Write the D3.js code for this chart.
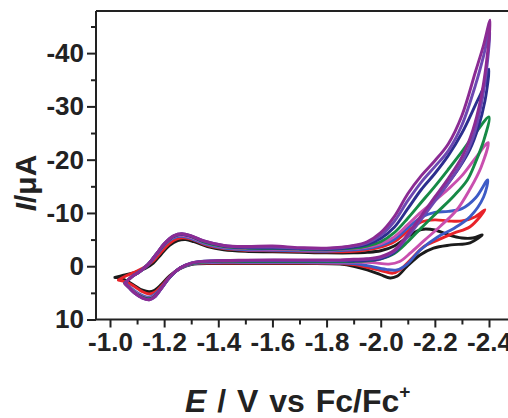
<!DOCTYPE html>
<html><head><meta charset="utf-8">
<script src="https://cdn.jsdelivr.net/npm/d3@7"></script>
<style>
html,body{margin:0;padding:0;background:#fff;}
svg{display:block;}
text{font-family:"Liberation Sans",Arial,sans-serif;font-weight:bold;fill:#222;}
</style></head><body>
<svg id="c" width="508" height="418"></svg>
<script>
// ---- data (E in V vs Fc/Fc+, I in microampere); each loop: forward scan then return scan
const xMajorTicks = [-1.0,-1.2,-1.4,-1.6,-1.8,-2.0,-2.2,-2.4];
const xMinorTicks = [-1.1,-1.3,-1.5,-1.7,-1.9,-2.1,-2.3];
const yMajorTicks = [10,0,-10,-20,-30,-40];
const yMinorTicks = [5,-5,-15,-25,-35,-45];
const seriesNames = ["black","red","blue","magenta","green","navy","violet","purple"];
const seriesColors = ["#1b1b1b","#e8232a","#3d5bc6","#c94fae","#168a45","#2c2e8e","#6c48b2","#8b2b93"];

const blackCV = [[-1.018,2.1],[-1.05,1.7],[-1.09,1.2],[-1.13,0.4],[-1.16,-0.6],[-1.19,-2.3],[-1.22,-3.9],[-1.25,-4.8],[-1.28,-5.0],[-1.31,-4.6],[-1.36,-3.7],[-1.42,-3.1],[-1.50,-2.8],[-1.60,-2.7],[-1.70,-2.6],[-1.80,-2.5],[-1.90,-2.5],[-1.95,-2.6],[-2.00,-2.9],[-2.05,-3.8],[-2.10,-5.5],[-2.15,-6.9],[-2.20,-6.8],[-2.25,-5.9],[-2.30,-5.3],[-2.34,-5.3],[-2.375,-5.9],
  [-2.33,-4.4],[-2.26,-4.0],[-2.195,-3.4],[-2.145,-2.1],[-2.096,0.1],[-2.06,1.9],[-2.035,2.2],[-2.00,1.6],[-1.95,0.7],[-1.90,0.0],[-1.85,-0.4],[-1.70,-0.5],[-1.50,-0.5],[-1.38,-0.5],[-1.30,-0.3],[-1.26,0.4],[-1.22,1.8],[-1.19,3.4],[-1.165,4.5],[-1.145,4.8],[-1.12,4.5],[-1.09,3.6],[-1.06,2.7],[-1.04,2.3],[-1.018,2.1]];
const redCV = [[-1.031,2.6],[-1.06,1.8],[-1.10,0.9],[-1.13,0.1],[-1.16,-1.0],[-1.19,-2.7],[-1.22,-4.3],[-1.25,-5.2],[-1.28,-5.3],[-1.31,-4.9],[-1.36,-3.9],[-1.42,-3.3],[-1.50,-3.0],[-1.60,-2.9],[-1.70,-2.8],[-1.80,-2.7],[-1.90,-2.8],[-1.95,-3.1],[-2.00,-3.6],[-2.05,-4.6],[-2.10,-6.6],[-2.15,-8.3],[-2.20,-8.7],[-2.25,-8.5],[-2.30,-8.5],[-2.35,-9.3],[-2.385,-10.6],
  [-2.33,-7.4],[-2.27,-6.2],[-2.21,-4.9],[-2.16,-3.7],[-2.11,-1.2],[-2.07,0.7],[-2.045,1.3],[-2.00,0.8],[-1.95,0.2],[-1.90,-0.3],[-1.85,-0.5],[-1.70,-0.6],[-1.50,-0.6],[-1.38,-0.6],[-1.30,-0.4],[-1.26,0.4],[-1.22,2.0],[-1.19,3.7],[-1.165,4.9],[-1.145,5.2],[-1.12,4.8],[-1.09,3.8],[-1.06,3.0],[-1.031,2.6]];
const blueCV = [[-1.055,3.1],[-1.08,2.0],[-1.11,1.0],[-1.14,-0.2],[-1.17,-2.0],[-1.20,-3.9],[-1.235,-5.3],[-1.265,-5.6],[-1.30,-5.2],[-1.35,-4.2],[-1.42,-3.4],[-1.50,-3.1],[-1.60,-3.0],[-1.70,-2.9],[-1.80,-2.8],[-1.90,-3.1],[-1.95,-3.3],[-2.00,-3.9],[-2.05,-5.0],[-2.10,-7.2],[-2.15,-9.2],[-2.20,-10.1],[-2.25,-10.3],[-2.30,-10.8],[-2.35,-12.8],[-2.395,-16.2],
  [-2.38,-13.0],[-2.33,-9.3],[-2.27,-7.1],[-2.21,-5.5],[-2.145,-3.0],[-2.096,-0.3],[-2.06,0.7],[-2.02,0.6],[-1.95,-0.1],[-1.90,-0.5],[-1.85,-0.6],[-1.70,-0.7],[-1.50,-0.7],[-1.38,-0.7],[-1.30,-0.4],[-1.26,0.4],[-1.22,2.1],[-1.19,4.0],[-1.165,5.3],[-1.145,5.8],[-1.12,5.5],[-1.09,4.6],[-1.07,3.8],[-1.055,3.1]];
const magentaCV = [[-1.055,3.2],[-1.08,2.0],[-1.11,1.0],[-1.14,-0.3],[-1.17,-2.1],[-1.20,-4.0],[-1.235,-5.5],[-1.265,-5.8],[-1.30,-5.4],[-1.35,-4.4],[-1.42,-3.6],[-1.50,-3.3],[-1.60,-3.2],[-1.70,-3.1],[-1.80,-3.0],[-1.90,-3.3],[-1.95,-3.6],[-2.00,-4.2],[-2.05,-5.5],[-2.10,-7.8],[-2.15,-10.2],[-2.20,-12.3],[-2.25,-14.5],[-2.30,-17.0],[-2.35,-20.3],[-2.397,-23.2],
  [-2.37,-18.5],[-2.33,-14.5],[-2.28,-10.5],[-2.22,-7.5],[-2.16,-4.8],[-2.11,-2.5],[-2.07,-0.9],[-2.03,-0.4],[-1.97,-0.7],[-1.90,-0.8],[-1.85,-0.8],[-1.70,-0.8],[-1.50,-0.8],[-1.38,-0.8],[-1.30,-0.5],[-1.26,0.3],[-1.22,2.1],[-1.19,4.1],[-1.165,5.5],[-1.145,6.0],[-1.12,5.7],[-1.09,4.8],[-1.07,3.9],[-1.055,3.2]];
const greenCV = [[-1.055,3.2],[-1.08,2.0],[-1.11,1.0],[-1.14,-0.3],[-1.17,-2.2],[-1.20,-4.1],[-1.235,-5.6],[-1.265,-6.0],[-1.30,-5.6],[-1.35,-4.5],[-1.42,-3.7],[-1.50,-3.4],[-1.60,-3.3],[-1.70,-3.2],[-1.80,-3.1],[-1.90,-3.4],[-1.95,-3.8],[-2.00,-4.6],[-2.05,-6.3],[-2.10,-9.0],[-2.15,-12.0],[-2.20,-15.0],[-2.25,-18.2],[-2.30,-21.5],[-2.35,-25.0],[-2.40,-28.0],
  [-2.38,-23.5],[-2.35,-19.5],[-2.32,-16.2],[-2.27,-13.2],[-2.21,-10.2],[-2.15,-7.2],[-2.10,-4.6],[-2.05,-2.4],[-2.00,-1.4],[-1.95,-1.0],[-1.90,-0.9],[-1.85,-0.9],[-1.70,-0.9],[-1.50,-0.9],[-1.38,-0.9],[-1.30,-0.5],[-1.26,0.3],[-1.22,2.1],[-1.19,4.1],[-1.165,5.6],[-1.145,6.1],[-1.12,5.8],[-1.09,4.9],[-1.07,4.0],[-1.055,3.2]];
const navyCV = [[-1.055,3.2],[-1.08,2.0],[-1.11,1.0],[-1.14,-0.3],[-1.17,-2.2],[-1.20,-4.1],[-1.235,-5.6],[-1.265,-6.0],[-1.30,-5.6],[-1.35,-4.6],[-1.42,-3.8],[-1.50,-3.5],[-1.60,-3.4],[-1.70,-3.3],[-1.80,-3.2],[-1.90,-3.6],[-1.95,-4.1],[-2.00,-5.2],[-2.05,-7.3],[-2.10,-10.8],[-2.15,-14.4],[-2.20,-17.4],[-2.25,-20.8],[-2.30,-25.0],[-2.35,-30.3],[-2.38,-33.6],[-2.40,-37.0],
  [-2.385,-31.0],[-2.36,-26.0],[-2.33,-22.0],[-2.29,-18.5],[-2.24,-15.0],[-2.19,-11.8],[-2.14,-8.5],[-2.09,-5.0],[-2.05,-2.6],[-2.00,-1.4],[-1.95,-1.1],[-1.90,-1.0],[-1.85,-1.0],[-1.70,-1.0],[-1.50,-1.0],[-1.38,-1.0],[-1.30,-0.6],[-1.26,0.3],[-1.22,2.1],[-1.19,4.1],[-1.165,5.7],[-1.145,6.2],[-1.12,5.9],[-1.09,5.0],[-1.07,4.0],[-1.055,3.2]];
const violetCV = [[-1.055,3.2],[-1.08,2.0],[-1.11,1.0],[-1.14,-0.3],[-1.17,-2.2],[-1.20,-4.2],[-1.235,-5.7],[-1.265,-6.1],[-1.30,-5.7],[-1.35,-4.7],[-1.42,-3.9],[-1.50,-3.6],[-1.60,-3.6],[-1.70,-3.4],[-1.80,-3.3],[-1.90,-3.8],[-1.95,-4.4],[-2.00,-5.8],[-2.05,-8.4],[-2.10,-12.3],[-2.15,-15.8],[-2.20,-18.7],[-2.25,-21.7],[-2.30,-26.5],[-2.35,-34.0],[-2.38,-39.5],[-2.403,-44.5],
  [-2.39,-36.5],[-2.37,-30.0],[-2.34,-24.0],[-2.30,-19.5],[-2.25,-15.6],[-2.20,-12.2],[-2.15,-8.8],[-2.10,-5.5],[-2.05,-2.8],[-2.00,-1.6],[-1.95,-1.3],[-1.90,-1.2],[-1.85,-1.1],[-1.70,-1.1],[-1.50,-1.1],[-1.38,-1.0],[-1.30,-0.6],[-1.26,0.3],[-1.22,2.1],[-1.19,4.2],[-1.165,5.8],[-1.145,6.3],[-1.12,6.0],[-1.09,5.0],[-1.07,4.0],[-1.055,3.2]];
const purpleCV = [[-1.055,3.3],[-1.08,2.0],[-1.11,1.0],[-1.14,-0.3],[-1.17,-2.2],[-1.20,-4.2],[-1.235,-5.7],[-1.265,-6.1],[-1.30,-5.7],[-1.35,-4.7],[-1.42,-3.9],[-1.50,-3.7],[-1.60,-3.8],[-1.70,-3.5],[-1.80,-3.4],[-1.90,-3.9],[-1.95,-4.6],[-2.00,-6.3],[-2.05,-9.3],[-2.10,-13.6],[-2.15,-17.0],[-2.20,-19.8],[-2.25,-23.0],[-2.30,-28.3],[-2.35,-36.5],[-2.38,-41.5],[-2.404,-46.2],
  [-2.39,-38.0],[-2.37,-31.5],[-2.34,-25.5],[-2.30,-20.5],[-2.25,-16.5],[-2.20,-13.0],[-2.15,-9.5],[-2.10,-6.0],[-2.05,-3.0],[-2.00,-1.8],[-1.95,-1.4],[-1.90,-1.3],[-1.85,-1.2],[-1.70,-1.2],[-1.50,-1.15],[-1.38,-1.0],[-1.30,-0.6],[-1.26,0.3],[-1.22,2.0],[-1.19,4.1],[-1.165,5.7],[-1.145,6.3],[-1.12,6.0],[-1.09,5.0],[-1.07,4.0],[-1.055,3.3]];
const seriesData = [blackCV,redCV,blueCV,magentaCV,greenCV,navyCV,violetCV,purpleCV];

// ---- drawing
const svg = d3.select("#c");
const x = d3.scaleLinear().domain([-1.0,-2.4]).range([110,489]);
const y = d3.scaleLinear().domain([10,-48]).range([319.5,10.5]);
const plotL = 96, plotR = 508, plotT = 11, plotB = 319.5;
const axisColor = "#222";

// curves
const line = d3.line().x(d=>x(d[0])).y(d=>y(d[1])).curve(d3.curveCatmullRom.alpha(0.5));
const gC = svg.append("g");
seriesData.forEach((s,i)=>{
  gC.append("path").attr("d",line(s)).attr("fill","none")
    .attr("stroke",seriesColors[i]).attr("stroke-width",2.9)
    .attr("stroke-linejoin","round").attr("stroke-linecap","round")
    .attr("data-name",seriesNames[i]);
});

// frame
svg.append("line").attr("x1",plotL).attr("x2",plotR).attr("y1",plotT).attr("y2",plotT).attr("stroke",axisColor).attr("stroke-width",2);
svg.append("line").attr("x1",plotL).attr("x2",plotR).attr("y1",plotB).attr("y2",plotB).attr("stroke",axisColor).attr("stroke-width",2);
svg.append("line").attr("x1",plotL).attr("x2",plotL).attr("y1",plotT).attr("y2",plotB).attr("stroke",axisColor).attr("stroke-width",2);

// y axis
const yAx = svg.append("g").attr("transform",`translate(${plotL},0)`)
  .call(d3.axisLeft(y).tickValues(yMajorTicks).tickSize(9).tickPadding(3).tickFormat(d=>String(d)));
yAx.select(".domain").remove();
yAx.selectAll(".tick line").attr("stroke",axisColor).attr("stroke-width",2);
yAx.selectAll(".tick text").attr("font-size",26).attr("fill","#222")
  .attr("font-family","Liberation Sans, Arial, sans-serif").attr("font-weight","bold");
const yAxm = svg.append("g").attr("transform",`translate(${plotL},0)`)
  .call(d3.axisLeft(y).tickValues(yMinorTicks).tickSize(5).tickFormat(""));
yAxm.select(".domain").remove();
yAxm.selectAll(".tick line").attr("stroke",axisColor).attr("stroke-width",2);

// x axis
const xAx = svg.append("g").attr("transform",`translate(0,${plotB})`)
  .call(d3.axisBottom(x).tickValues(xMajorTicks).tickSize(8).tickPadding(5).tickFormat(d=>d.toFixed(1)));
xAx.select(".domain").remove();
xAx.selectAll(".tick line").attr("stroke",axisColor).attr("stroke-width",2);
xAx.selectAll(".tick text").attr("font-size",26).attr("fill","#222")
  .attr("font-family","Liberation Sans, Arial, sans-serif").attr("font-weight","bold");
const xAxm = svg.append("g").attr("transform",`translate(0,${plotB})`)
  .call(d3.axisBottom(x).tickValues(xMinorTicks).tickSize(5).tickFormat(""));
xAxm.select(".domain").remove();
xAxm.selectAll(".tick line").attr("stroke",axisColor).attr("stroke-width",2);

// axis titles
const xt = svg.append("text").attr("x",185).attr("y",412).attr("font-size",32).attr("word-spacing",2);
xt.append("tspan").attr("font-style","italic").text("E");
xt.append("tspan").text(" / V vs Fc/Fc");
xt.append("tspan").attr("font-size",19).attr("dy",-14).text("+");

const yt = svg.append("text").attr("transform","translate(36,183) rotate(-90)")
  .attr("text-anchor","middle").attr("font-size",30);
yt.append("tspan").attr("font-style","italic").text("I");
yt.append("tspan").text("/μA");
</script>
</body></html>
